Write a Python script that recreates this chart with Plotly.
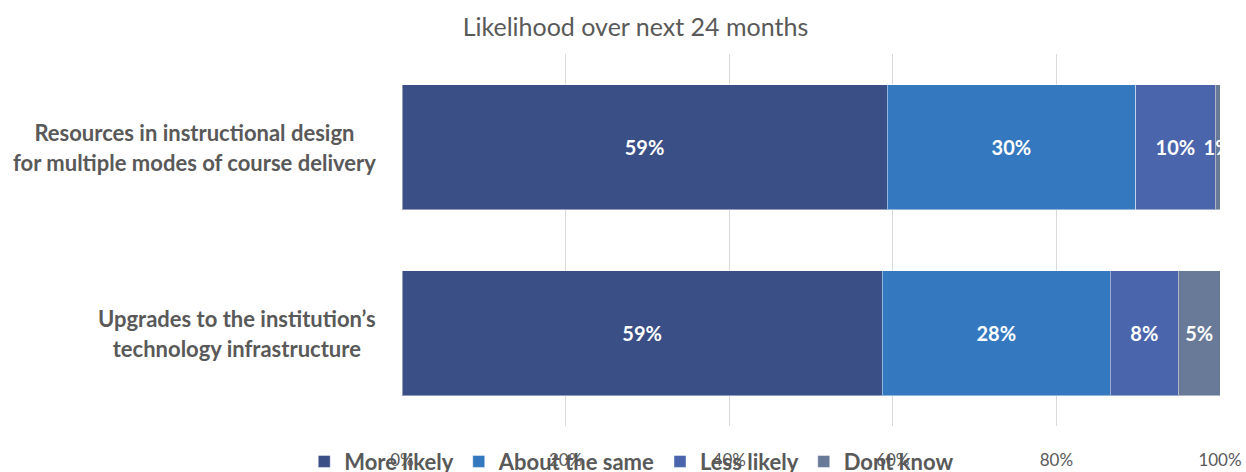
import plotly.graph_objects as go

categories = [
    "Resources in instructional design<br>for multiple modes of course delivery",
    "Upgrades to the institution’s<br>technology infrastructure",
]
series_names = ["More likely", "About the same", "Less likely", "Dont know"]
more_likely = [59.3, 58.7]
about_same = [30.4, 27.9]
less_likely = [9.7, 8.3]
dont_know = [0.6, 5.1]
colors = ["#3B4F87", "#3479C0", "#4A65AC", "#687A98"]
x_tickvals = [0, 20, 40, 60, 80, 100]
x_ticktext = ["0%", "20%", "40%", "60%", "80%", "100%"]

FONT = "Lato, 'Open Sans', sans-serif"
GRAY = "#595959"

fig = go.Figure()
for name, vals, col in zip(series_names, [more_likely, about_same, less_likely, dont_know], colors):
    fig.add_trace(go.Bar(
        y=categories, x=vals, name=name, orientation="h",
        marker=dict(color=col, line=dict(color="rgba(255,255,255,0.45)", width=1)),
        texttemplate="%{x:.0f}%", textposition="inside", insidetextanchor="middle",
        constraintext="none", textangle=0,
        textfont=dict(family=FONT, size=20, color="white", weight="bold"),
    ))

for cat in categories:
    lines = cat.split("<br>")
    txt = "<br>".join(f"<span style='font-size:22px'>{ln}</span>" for ln in lines)
    fig.add_annotation(
        x=-0.029, xref="paper", y=cat, yref="y", text=txt,
        xanchor="right", yanchor="middle", align="center", showarrow=False,
        font=dict(family=FONT, size=23, color=GRAY, weight="bold"),
    )

fig.update_layout(
    barmode="stack", bargap=0.328,
    width=1246, height=472,
    margin=dict(l=402, r=26, t=54, b=46, autoexpand=False),
    paper_bgcolor="white", plot_bgcolor="white",
    title=dict(text="Likelihood over next 24 months", x=0.51, xanchor="center",
               y=0.943, yanchor="middle",
               font=dict(family=FONT, size=25, color=GRAY)),
    legend=dict(orientation="h", xref="container", yref="container",
                x=0.507, xanchor="center", y=0.022, yanchor="middle",
                font=dict(family=FONT, size=22, color=GRAY, weight="bold"),
                traceorder="normal", bgcolor="rgba(0,0,0,0)"),
    font=dict(family=FONT, color=GRAY),
)
fig.update_xaxes(range=[0, 100], tickvals=x_tickvals, ticktext=x_ticktext,
                 showgrid=True, gridcolor="#D9D9D9", gridwidth=1,
                 zeroline=False, showline=False, ticks="",
                 ticklabelstandoff=22,
                 tickfont=dict(family=FONT, size=17, color=GRAY))
fig.update_yaxes(autorange="reversed", showticklabels=False, showgrid=False,
                 zeroline=False, showline=False)

fig.write_html("out.html")
